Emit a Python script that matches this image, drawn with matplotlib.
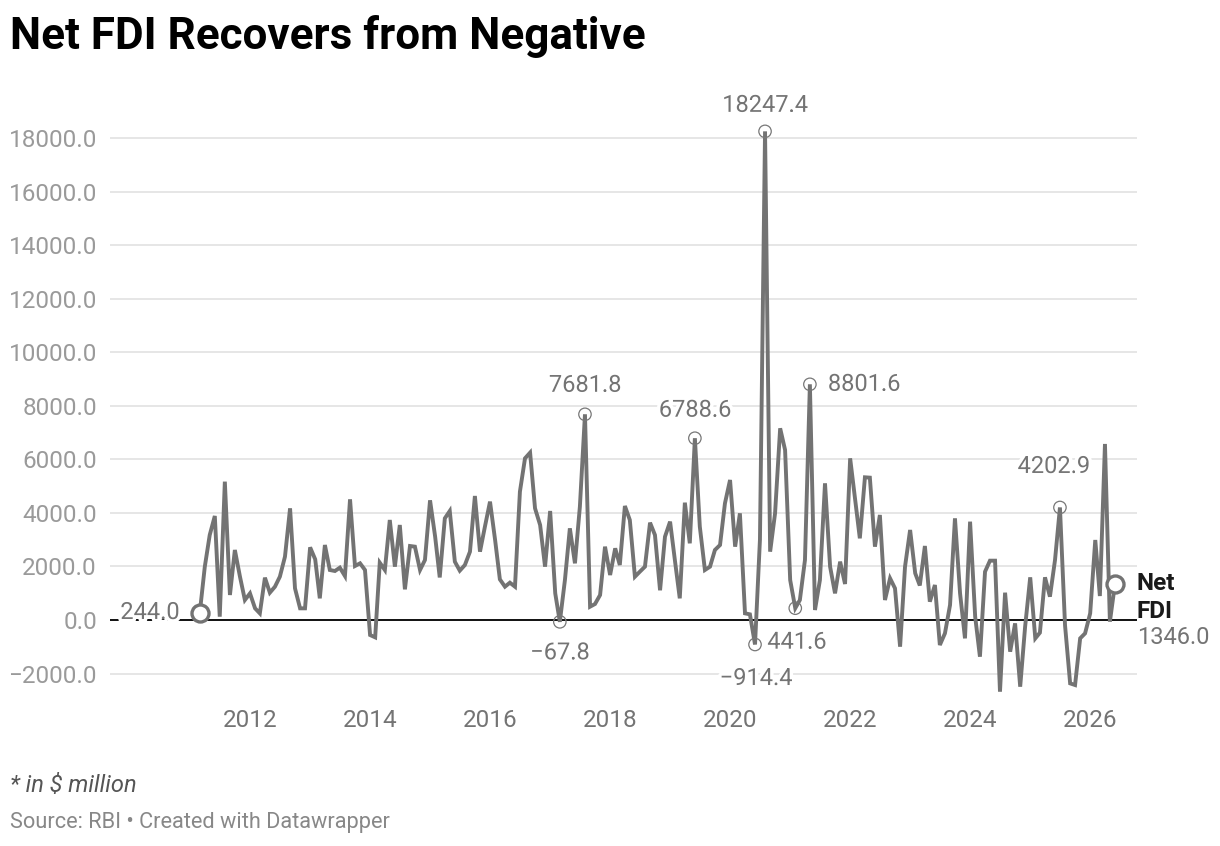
import numpy as np
import pandas as pd
import matplotlib
matplotlib.use('Agg')
import matplotlib.pyplot as plt
import matplotlib.patheffects as pe

plt.rcParams['font.family'] = ['Roboto', 'DejaVu Sans']

# monthly net FDI, $ million
start_month = '2011-03-01'
net_fdi = [
    244.0, 1990, 3175, 3885, 125, 5167, 934, 2615, 1620, 747,
    996, 436, 249, 1581, 1021, 1245, 1620, 2366, 4171, 1183,
    436, 436, 2714, 2266, 809, 2801, 1868, 1830, 1955, 1643,
    4507, 2017, 2117, 1868, -560, -647, 2141, 1868, 3735, 1992,
    3548, 1145, 2764, 2739, 1868, 2241, 4470, 3112, 1590, 3797,
    4071, 2179, 1843, 2054, 2552, 4631, 2552, 3486, 4420, 2988,
    1519, 1245, 1394, 1245, 4793, 6038, 6250, 4171, 3548, 1992,
    4071, 996, -67.8, 1494, 3424, 2117, 4233, 7681.8, 498, 598,
    934, 2739, 1681, 2677, 2054, 4258, 3735, 1618, 1805, 1992,
    3635, 3175, 1110, 3112, 3673, 2150, 809, 4382, 2864, 6788.6,
    3486, 1868, 1992, 2615, 2801, 4358, 5229, 2739, 3984, 249,
    212, -914.4, 3000, 18247.4, 2552, 3984, 7159, 6350, 1494, 441.6,
    747, 2241, 8801.6, 374, 1494, 5105, 1992, 996, 2179, 1345,
    6038, 4482, 3050, 5329, 5316, 2739, 3922, 747, 1556, 1183,
    -996, 1992, 3362, 1745, 1290, 2764, 685, 1307, -934, -498,
    560, 3797, 996, -685, 3673, 125, -1370, 1805, 2216, 2216,
    -2677, 1021, -1183, -125, -2490, -249, 1594, -685, -473, 1594,
    872, 2241, 4202.9, -200, -2366, -2428, -685, -498, 249, 2988,
    896, 6574, -62, 1346.0,
]
dates = pd.date_range(start_month, periods=len(net_fdi), freq='MS')

y_ticks = [-2000, 0, 2000, 4000, 6000, 8000, 10000, 12000, 14000, 16000, 18000]
x_years = [2012, 2014, 2016, 2018, 2020, 2022, 2024, 2026]

# labelled points: index, offset in pixels, alignment
callouts = [
    (113, (0, 26), 'center'),
    (77, (0, 29), 'center'),
    (99, (0, 28), 'center'),
    (122, (18, 0), 'left'),
    (172, (-6, 41), 'center'),
    (72, (0, -31), 'center'),
    (119, (-28, -34), 'left'),
    (111, (1, -34), 'center'),
]

line_col = '#737373'
lab_col = '#747474'
halo = [pe.withStroke(linewidth=5, foreground='white')]

fig = plt.figure(figsize=(12.2, 8.46), dpi=100)
ax = fig.add_axes([110 / 1220, (846 - 695) / 846, 1027 / 1220, (695 - 111.2) / 846])

ax.plot(dates, net_fdi, color=line_col, lw=2.8, solid_joinstyle='miter', zorder=3)
ax.axhline(0, color='black', lw=1.3, zorder=2)

idx = [c[0] for c in callouts]
ax.scatter(dates[idx], [net_fdi[i] for i in idx], s=80, facecolors='none',
           edgecolors='#777777', linewidths=0.9, zorder=4)
ax.scatter([dates[0], dates[-1]], [net_fdi[0], net_fdi[-1]], s=150, facecolors='white',
           edgecolors=line_col, linewidths=2.4, zorder=5)

for i, off, ha in callouts:
    v = net_fdi[i]
    txt = f'{v:.1f}'.replace('-', '\u2212')
    ax.annotate(txt, (dates[i], v), xytext=off, textcoords='offset pixels',
                ha=ha, va='center', fontsize=17, color=lab_col, path_effects=halo, zorder=6)

ax.annotate(f'{net_fdi[0]:.1f}', (dates[0], net_fdi[0]), xytext=(-20, 1),
            textcoords='offset pixels', ha='right', va='center', fontsize=17,
            color=lab_col, path_effects=halo, zorder=6)
ax.annotate('Net', (dates[-1], net_fdi[-1]), xytext=(22, 0), textcoords='offset pixels',
            ha='left', va='center', fontsize=17.5, fontweight='bold', color='#1a1a1a',
            annotation_clip=False)
ax.annotate('FDI', (dates[-1], net_fdi[-1]), xytext=(22, -28), textcoords='offset pixels',
            ha='left', va='center', fontsize=17.5, fontweight='bold', color='#1a1a1a',
            annotation_clip=False)
ax.annotate(f'{net_fdi[-1]:.1f}', (dates[-1], net_fdi[-1]), xytext=(22, -54),
            textcoords='offset pixels', ha='left', va='center', fontsize=17,
            color=lab_col, annotation_clip=False)

ax.set_ylim(-2800, 19000)
ax.set_xlim(pd.Timestamp('2009-09-01'), pd.Timestamp('2026-10-13'))
ax.set_yticks(y_ticks)
ax.set_yticklabels([f'{t:.1f}'.replace('-', '\u2212') for t in y_ticks])
ax.set_xticks([pd.Timestamp(f'{y}-01-01') for y in x_years])
ax.set_xticklabels([str(y) for y in x_years])
ax.tick_params(axis='y', length=0, pad=9.4, labelsize=17.5, labelcolor='#9a9a9a')
ax.tick_params(axis='x', length=0, pad=10, labelsize=17.5, labelcolor='#747474')
ax.yaxis.grid(True, color='#e4e4e4', lw=1.3)
ax.set_axisbelow(True)
for s in ax.spines.values():
    s.set_visible(False)

fig.text(10 / 1220, 1 - 36 / 846, 'Net FDI Recovers from Negative', fontsize=31.7,
         fontweight='bold', color='black', va='center', ha='left')
fig.text(10 / 1220, 1 - 785 / 846, '* in $ million', fontsize=17, style='italic',
         color='#555555', va='center', ha='left')
fig.text(10 / 1220, 1 - 822 / 846, 'Source: RBI \u2022 Created with Datawrapper', fontsize=15.7,
         color='#888888', va='center', ha='left')

fig.savefig('out.png', dpi=100)
